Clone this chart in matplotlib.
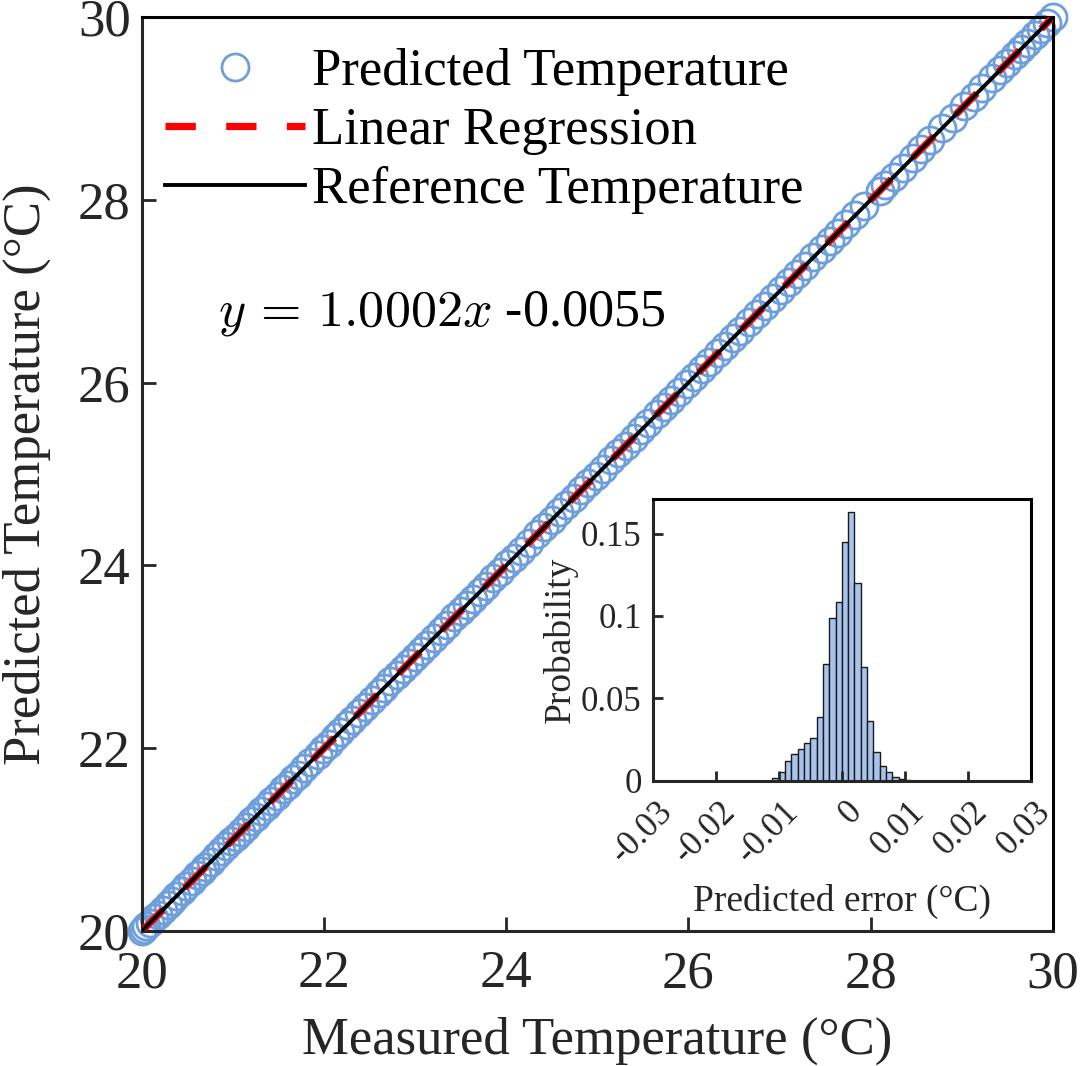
import matplotlib
matplotlib.use("Agg")
import matplotlib.pyplot as plt
from matplotlib.transforms import ScaledTranslation
import numpy as np

plt.rcParams['font.family'] = ['Liberation Serif', 'DejaVu Serif']
plt.rcParams['mathtext.fontset'] = 'cm'

# ---------------- data ----------------
measured = [
    20.00, 20.02, 20.05, 20.09, 20.14, 20.18, 20.23, 20.29, 20.33, 20.38,
    20.44, 20.49, 20.55, 20.61, 20.66, 20.70, 20.76, 20.82, 20.87, 20.93,
    20.98, 21.03, 21.09, 21.14, 21.20, 21.25, 21.31, 21.37, 21.42, 21.48,
    21.55, 21.60, 21.66, 21.71, 21.78, 21.85, 21.93, 21.99, 22.05, 22.12,
    22.18, 22.25, 22.31, 22.38, 22.45, 22.53, 22.60, 22.66, 22.73, 22.80,
    22.87, 22.93, 23.00, 23.06, 23.13, 23.21, 23.28, 23.35, 23.43, 23.50,
    23.57, 23.63, 23.71, 23.78, 23.86, 23.93, 24.01, 24.08, 24.16, 24.25,
    24.34, 24.42, 24.50, 24.58, 24.66, 24.74, 24.82, 24.90, 24.98, 25.06,
    25.15, 25.23, 25.31, 25.40, 25.48, 25.56, 25.65, 25.73, 25.81, 25.90,
    25.98, 26.06, 26.15, 26.23, 26.32, 26.40, 26.49, 26.57, 26.66, 26.75,
    26.84, 26.93, 27.01, 27.10, 27.19, 27.28, 27.37, 27.46, 27.55, 27.64,
    27.73, 27.83, 27.93, 28.10, 28.16, 28.25, 28.35, 28.46, 28.55, 28.65,
    28.78, 28.90, 29.02, 29.13, 29.22, 29.33, 29.42, 29.50, 29.58, 29.65,
    29.72, 29.80, 29.87, 29.93, 30.00,
]
predicted = [
    20.001, 20.018, 20.052, 20.087, 20.141, 20.178, 20.232, 20.288, 20.331, 20.379,
    20.441, 20.489, 20.548, 20.611, 20.659, 20.702, 20.758, 20.819, 20.871, 20.928,
    20.981, 21.029, 21.088, 21.141, 21.199, 21.252, 21.308, 21.371, 21.418, 21.479,
    21.549, 21.602, 21.658, 21.711, 21.779, 21.851, 21.928, 21.991, 22.049, 22.121,
    22.179, 22.251, 22.308, 22.381, 22.449, 22.528, 22.601, 22.659, 22.731, 22.798,
    22.871, 22.929, 23.001, 23.058, 23.131, 23.209, 23.281, 23.348, 23.431, 23.499,
    23.571, 23.628, 23.711, 23.779, 23.861, 23.928, 24.011, 24.079, 24.161, 24.249,
    24.341, 24.418, 24.501, 24.579, 24.661, 24.739, 24.821, 24.898, 24.981, 25.059,
    25.151, 25.229, 25.311, 25.398, 25.481, 25.559, 25.651, 25.729, 25.811, 25.899,
    25.981, 26.058, 26.151, 26.229, 26.321, 26.399, 26.491, 26.569, 26.661, 26.749,
    26.841, 26.929, 27.011, 27.099, 27.191, 27.279, 27.371, 27.459, 27.551, 27.639,
    27.731, 27.829, 27.931, 28.099, 28.161, 28.249, 28.351, 28.459, 28.551, 28.649,
    28.781, 28.899, 29.021, 29.129, 29.221, 29.329, 29.421, 29.499, 29.581, 29.649,
    29.721, 29.799, 29.871, 29.929, 30.001,
]
fit_slope = 1.0002
fit_intercept = -0.0055
x_range = [20, 30]

err_bin_left = [-0.011, -0.010, -0.009, -0.008, -0.007, -0.006, -0.005, -0.004,
                -0.003, -0.002, -0.001, 0.000, 0.001, 0.002, 0.003, 0.004,
                0.005, 0.006, 0.007, 0.008, 0.009, 0.010]
err_prob = [0.0014, 0.0051, 0.0121, 0.0164, 0.0190, 0.0227, 0.0261, 0.0385,
            0.0711, 0.0990, 0.1083, 0.1447, 0.1634, 0.1198, 0.0688, 0.0362,
            0.0174, 0.0091, 0.0051, 0.0024, 0.0012, 0.0006]
bin_width = 0.001

main_ticks = [20, 22, 24, 26, 28, 30]
inset_xticks = [-0.03, -0.02, -0.01, 0, 0.01, 0.02, 0.03]
inset_xticklabels = ['-0.03', '-0.02', '-0.01', '0', '0.01', '0.02', '0.03']
inset_yticks = [0, 0.05, 0.1, 0.15]
inset_yticklabels = ['0', '0.05', '0.1', '0.15']

# ---------------- figure ----------------
W, H = 1080, 1066
fig = plt.figure(figsize=(W / 100, H / 100), dpi=100)
dark = '#262626'

ax = fig.add_axes([141.7 / W, 1 - 931 / H, (1053 - 141.7) / W, (931 - 17) / H])
circ_color = '#6e9fdc'
ax.plot(measured, predicted, linestyle='none', marker='o', markersize=19.5,
        markerfacecolor='none', markeredgecolor=circ_color, markeredgewidth=2.0,
        label='Predicted Temperature', zorder=2, clip_on=False)
fx = np.array(x_range, dtype=float)
ax.plot(fx, fit_slope * fx + fit_intercept, color='red', linewidth=5.2,
        dashes=(4.2, 4.2), label='Linear Regression', zorder=3)
ax.plot(fx, fx, color='black', linewidth=2.8, label='Reference Temperature', zorder=4)

ax.set_xlim(20, 30)
ax.set_ylim(20, 30)
ax.set_xticks(main_ticks)
ax.set_yticks(main_ticks)
ax.tick_params(direction='in', length=10, width=2, colors=dark, labelsize=38,
               labelcolor=dark)
ax.tick_params(axis='x', pad=14)
ax.tick_params(axis='y', pad=8)
for s in ax.spines.values():
    s.set_linewidth(2.2)
    s.set_color(dark)
ax.spines['top'].set_color('black')
ax.spines['right'].set_color('black')
ax.set_xlabel('Measured Temperature (°C)', fontsize=38, color=dark, labelpad=13)
ax.set_ylabel('Predicted Temperature (°C)', fontsize=38, color=dark, labelpad=19)

leg = ax.legend(loc='upper left', bbox_to_anchor=(165 / W, 1 - 48 / H),
                bbox_transform=fig.transFigure, frameon=False, fontsize=38,
                handlelength=2.65, handletextpad=0.13, labelspacing=0.21,
                borderpad=0, borderaxespad=0, numpoints=1)

ax.text(20.84, 26.63, r'$y\, =\, 1.0002x$ -0.0055', fontsize=37.5, color='black',
        va='baseline', ha='left')

# ---------------- inset ----------------
ia = fig.add_axes([652.7 / W, 1 - 780.7 / H, (1031 - 652.7) / W, (780.7 - 499) / H])
ia.bar(err_bin_left, err_prob, width=bin_width, align='edge',
       color='#a9c4ec', edgecolor='#1a1a1a', linewidth=1.0)
ia.set_xlim(-0.03, 0.03)
ia.set_ylim(0, 0.171)
ia.set_xticks(inset_xticks)
ia.set_xticklabels(inset_xticklabels, rotation=45, ha='right', va='center',
                   rotation_mode='anchor')
ia.set_yticks(inset_yticks)
ia.set_yticklabels(inset_yticklabels)
ia.tick_params(direction='in', length=7, width=2, colors=dark, labelsize=25,
               labelcolor=dark)
ia.tick_params(axis='y', pad=8)
ia.tick_params(axis='x', pad=19)
shift = ScaledTranslation(15 / 100, 0, fig.dpi_scale_trans)
for lab in ia.get_xticklabels():
    lab.set_transform(lab.get_transform() + shift)
for s in ia.spines.values():
    s.set_linewidth(2.2)
    s.set_color(dark)
ia.spines['top'].set_color('black')
ia.spines['right'].set_color('black')
ia.set_xlabel('Predicted error (°C)', fontsize=27, color=dark, labelpad=10)
ia.set_ylabel('Probability', fontsize=27, color=dark, labelpad=2)

fig.savefig('out.png', dpi=100)
